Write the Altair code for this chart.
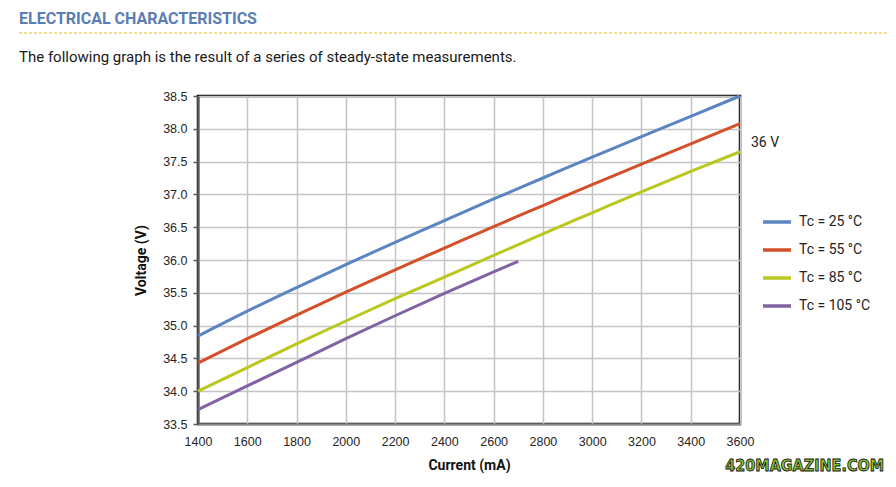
import altair as alt
import pandas as pd

# ---- data ----
current = [1400, 1600, 1800, 2000, 2200, 2400, 2600, 2800, 3000, 3200, 3400, 3600]
v_25 = [34.84, 35.22, 35.58, 35.93, 36.27, 36.60, 36.93, 37.25, 37.57, 37.88, 38.19, 38.50]
v_55 = [34.43, 34.80, 35.16, 35.51, 35.85, 36.18, 36.51, 36.83, 37.15, 37.46, 37.77, 38.08]
v_85 = [34.00, 34.36, 34.72, 35.07, 35.41, 35.74, 36.07, 36.40, 36.72, 37.04, 37.35, 37.65]
current_105 = [1400, 1600, 1800, 2000, 2200, 2400, 2600, 2700]
v_105 = [33.72, 34.08, 34.44, 34.80, 35.15, 35.49, 35.82, 35.98]

series_names = ["Tc = 25 °C", "Tc = 55 °C", "Tc = 85 °C", "Tc = 105 °C"]
series_colors = ["#5b84c3", "#d3502b", "#b9c71f", "#8064a2"]
x_ticks = [1400, 1600, 1800, 2000, 2200, 2400, 2600, 2800, 3000, 3200, 3400, 3600]
y_ticks = [33.5, 34.0, 34.5, 35.0, 35.5, 36.0, 36.5, 37.0, 37.5, 38.0, 38.5]

heading = "ELECTRICAL CHARACTERISTICS"
subtitle = "The following graph is the result of a series of steady-state measurements."
side_note = "36 V"
watermark = "420MAGAZINE.COM"

rows = []
for name, xs, ys in [
    (series_names[0], current, v_25),
    (series_names[1], current, v_55),
    (series_names[2], current, v_85),
    (series_names[3], current_105, v_105),
]:
    for x, y in zip(xs, ys):
        rows.append({"current": x, "voltage": y, "series": name})
df = pd.DataFrame(rows)

W, H = 542, 328

lines = alt.Chart(df).mark_line(strokeWidth=3, interpolate="monotone").encode(
    x=alt.X(
        "current:Q",
        scale=alt.Scale(domain=[1400, 3600], nice=False, zero=False),
        axis=alt.Axis(
            values=x_ticks, format="d", title="Current (mA)",
            labelFont="Liberation Sans", labelFontSize=12.5, labelColor="#262626",
            labelPadding=11, ticks=False, domainColor="#8a8a8a", domainWidth=2,
            gridColor="#c4c4c4", gridWidth=1.5, labelFlush=False,
            titleFont="Roboto", titleFontSize=14, titleFontWeight="bold",
            titleColor="#111111", titlePadding=11,
        ),
    ),
    y=alt.Y(
        "voltage:Q",
        scale=alt.Scale(domain=[33.5, 38.5], nice=False, zero=False),
        axis=alt.Axis(
            values=y_ticks, format=".1f", title="Voltage (V)",
            labelFont="Liberation Sans", labelFontSize=12.5, labelColor="#262626",
            labelPadding=6, ticks=True, tickSize=5, tickColor="#595959", tickWidth=1.5,
            domainColor="#595959", domainWidth=2,
            gridColor="#c4c4c4", gridWidth=1.5,
            titleFont="Roboto", titleFontSize=14, titleFontWeight="bold",
            titleColor="#111111", titlePadding=14,
        ),
    ),
    color=alt.Color(
        "series:N",
        scale=alt.Scale(domain=series_names, range=series_colors),
        sort=series_names,
        legend=alt.Legend(
            title=None, orient="none", legendX=563, legendY=110,
            symbolType="stroke", symbolSize=784, symbolStrokeWidth=3.5,
            labelFont="Roboto", labelFontSize=14, labelColor="#222222",
            labelOffset=6, rowPadding=5, padding=0,
        ),
    ),
)

note = alt.Chart(pd.DataFrame({"t": [side_note]})).mark_text(
    align="left", baseline="middle", font="Roboto", fontSize=14, color="#222222"
).encode(x=alt.value(553), y=alt.value(47), text="t:N")

head = alt.Chart(pd.DataFrame({"t": [heading]})).mark_text(
    align="left", baseline="middle", font="Roboto", fontSize=16, fontWeight="bold",
    color="#5a7db4"
).encode(x=alt.value(-179), y=alt.value(-77), text="t:N")

sub = alt.Chart(pd.DataFrame({"t": [subtitle]})).mark_text(
    align="left", baseline="middle", font="Roboto", fontSize=15, color="#1a1a1a"
).encode(x=alt.value(-179), y=alt.value(-39), text="t:N")

dash = alt.Chart(pd.DataFrame({"a": [0]})).mark_rule(
    color="#f0d26a", strokeWidth=1.5, strokeDash=[3, 2]
).encode(x=alt.value(-179), x2=alt.value(690), y=alt.value(-63))

wm = alt.Chart(pd.DataFrame({"t": [watermark]})).mark_text(
    align="right", baseline="middle", font="Liberation Sans Narrow, DejaVu Sans Condensed",
    fontSize=16, fontWeight="bold", color="#86c232", stroke="#111111", strokeWidth=0.8
).encode(x=alt.value(686), y=alt.value(370), text="t:N")

chart = alt.layer(lines, note, head, sub, dash, wm).properties(
    width=W, height=H,
    autosize=alt.AutoSizeParams(type="none"),
    padding={"left": 190, "top": 88, "right": 148, "bottom": 52},
    background="white",
).configure_view(stroke="#000000", strokeWidth=2.5)

chart.save("out.html", embed_options={"renderer": "svg", "actions": False})
